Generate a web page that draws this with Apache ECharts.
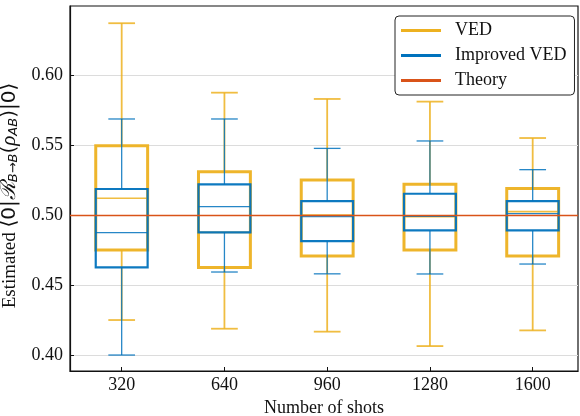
<!DOCTYPE html>
<html>
<head>
<meta charset="utf-8">
<script src="https://cdn.jsdelivr.net/npm/echarts@6/dist/echarts.min.js"></script>
<style>html,body{margin:0;padding:0;background:#fff;}#c{width:580px;height:416px;}</style>
</head>
<body>
<div id="c"></div>
<script>
// ---- data ----
const categories = ['320', '640', '960', '1280', '1600'];
// [lower whisker, Q1, median, Q3, upper whisker]
const vedStats = [
  [0.425, 0.475, 0.512, 0.5495, 0.637],
  [0.4188, 0.4626, 0.4876, 0.531, 0.5874],
  [0.4167, 0.4707, 0.500, 0.525, 0.5829],
  [0.4064, 0.475, 0.4988, 0.522, 0.581],
  [0.4176, 0.4707, 0.5024, 0.519, 0.555]
];
const improvedStats = [
  [0.400, 0.4626, 0.4874, 0.5186, 0.5686],
  [0.4593, 0.4876, 0.506, 0.5219, 0.5686],
  [0.458, 0.4814, 0.4988, 0.510, 0.5476],
  [0.4579, 0.489, 0.499, 0.5152, 0.5529],
  [0.465, 0.489, 0.501, 0.510, 0.5324]
];
const theoryValue = 0.5;
const yTicks = [0.40, 0.45, 0.50, 0.55, 0.60];
const xPositions = [1, 2, 3, 4, 5];

const FONT = '"Liberation Serif", "Times New Roman", serif';
const BOX_W = 0.505, CAP_W = 0.26;

function rows(stats) { return stats.map((s, i) => [xPositions[i]].concat(s)); }

function makeRender(col, boxW, whiskW, medW, boxOp, lineOp) {
  return function (params, api) {
    const x = api.value(0);
    const lo = api.coord([x, api.value(1)]);
    const q1 = api.coord([x, api.value(2)]);
    const md = api.coord([x, api.value(3)]);
    const q3 = api.coord([x, api.value(4)]);
    const hi = api.coord([x, api.value(5)]);
    const bw = api.size([BOX_W, 0])[0];
    const cw = api.size([CAP_W, 0])[0];
    const cx = lo[0];
    const line = (x1, y1, x2, y2, w, op) => ({
      type: 'line', shape: { x1, y1, x2, y2 },
      style: { stroke: col, lineWidth: w, opacity: op }
    });
    return {
      type: 'group', children: [
        line(cx, q3[1], cx, hi[1], whiskW, lineOp),
        line(cx, q1[1], cx, lo[1], whiskW, lineOp),
        line(cx - cw / 2, hi[1], cx + cw / 2, hi[1], whiskW, lineOp),
        line(cx - cw / 2, lo[1], cx + cw / 2, lo[1], whiskW, lineOp),
        {
          type: 'rect', shape: { x: cx - bw / 2, y: q3[1], width: bw, height: q1[1] - q3[1] },
          style: { fill: 'none', stroke: col, lineWidth: boxW, opacity: boxOp }
        },
        line(cx - bw / 2, md[1], cx + bw / 2, md[1], medW, lineOp)
      ]
    };
  };
}

const chart = echarts.init(document.getElementById('c'), null, { renderer: 'canvas' });
chart.setOption({
  animation: false,
  backgroundColor: '#fff',
  grid: {
    left: 70, right: 2, top: 6, bottom: 45,
    outerBoundsMode: 'none', containLabel: false,
    show: true, borderColor: '#111', borderWidth: 1.2, backgroundColor: 'transparent'
  },
  legend: {
    left: 395, top: 16,
    orient: 'vertical',
    backgroundColor: '#fff',
    borderColor: '#222', borderWidth: 1, borderRadius: 4,
    padding: [5, 8, 5, 6],
    itemGap: 6,
    itemWidth: 40, itemHeight: 3,
    textStyle: { fontFamily: FONT, fontSize: 18, lineHeight: 19, color: '#111', padding: [0, 0, 0, 9] },
    data: [
      { name: 'VED', icon: 'rect', itemStyle: { color: '#EDB120' } },
      { name: 'Improved VED', icon: 'rect', itemStyle: { color: '#0072BD' } },
      { name: 'Theory', icon: 'rect', itemStyle: { color: '#D95319' } }
    ]
  },
  xAxis: {
    type: 'value', min: 0.497, max: 5.441,
    name: 'Number of shots', nameLocation: 'middle', nameGap: 24,
    nameTextStyle: { fontFamily: FONT, fontSize: 18, color: '#111' },
    axisLine: { show: true, onZero: false, lineStyle: { color: '#111', width: 1.2 } },
    axisTick: { show: true, inside: true, length: 4, customValues: xPositions, lineStyle: { color: '#111' } },
    axisLabel: { customValues: xPositions, formatter: v => categories[Math.round(v) - 1], fontFamily: FONT, fontSize: 18, color: '#111', margin: 5 },
    splitLine: { show: false }
  },
  yAxis: {
    type: 'value', min: 0.3886, max: 0.6493,
    name: '{t|Estimated }{m|⟨0|}{s|ℛ}{sub|B→B}{m|(}{s|ρ}{sub|AB}{m|)|0⟩}',
    nameLocation: 'middle', nameGap: 39,
    nameTextStyle: {
      fontFamily: FONT, fontSize: 19, color: '#111', padding: [0, 14, 0, 0],
      rich: {
        t: { fontFamily: FONT, fontSize: 19, color: '#111' },
        m: { fontFamily: '"DejaVu Sans", sans-serif', fontSize: 20, color: '#111' },
        s: { fontFamily: FONT, fontSize: 21, fontStyle: 'italic', color: '#111' },
        sub: { fontFamily: '"DejaVu Sans", sans-serif', fontSize: 13, fontStyle: 'italic', color: '#111', padding: [9, 0, 0, 0] }
      }
    },
    axisLine: { show: true, onZero: false, lineStyle: { color: '#111', width: 1.2 } },
    axisTick: { show: true, inside: true, length: 4, customValues: yTicks, lineStyle: { color: '#111' } },
    axisLabel: { customValues: yTicks, formatter: v => v.toFixed(2), fontFamily: FONT, fontSize: 18, color: '#111', margin: 7 },
    splitLine: { show: true, lineStyle: { color: '#dcdcdc', width: 1.2 } }
  },
  series: [
    {
      name: 'Theory', type: 'line', data: [], z: 1,
      itemStyle: { color: '#D95319' },
      markLine: {
        silent: true, symbol: 'none', label: { show: false },
        lineStyle: { color: '#D95319', width: 1.3, type: 'solid' },
        data: [{ yAxis: theoryValue }]
      }
    },
    {
      name: 'VED', type: 'custom', z: 2,
      itemStyle: { color: '#EDB120' },
      encode: { x: 0, y: [1, 2, 3, 4, 5] },
      renderItem: makeRender('#EDB120', 3, 1.8, 1.6, 0.95, 0.85),
      data: rows(vedStats)
    },
    {
      name: 'Improved VED', type: 'custom', z: 3,
      itemStyle: { color: '#0072BD' },
      encode: { x: 0, y: [1, 2, 3, 4, 5] },
      renderItem: makeRender('#0072BD', 2.2, 1.3, 1.3, 0.95, 0.85),
      data: rows(improvedStats)
    }
  ]
});
</script>
</body>
</html>
